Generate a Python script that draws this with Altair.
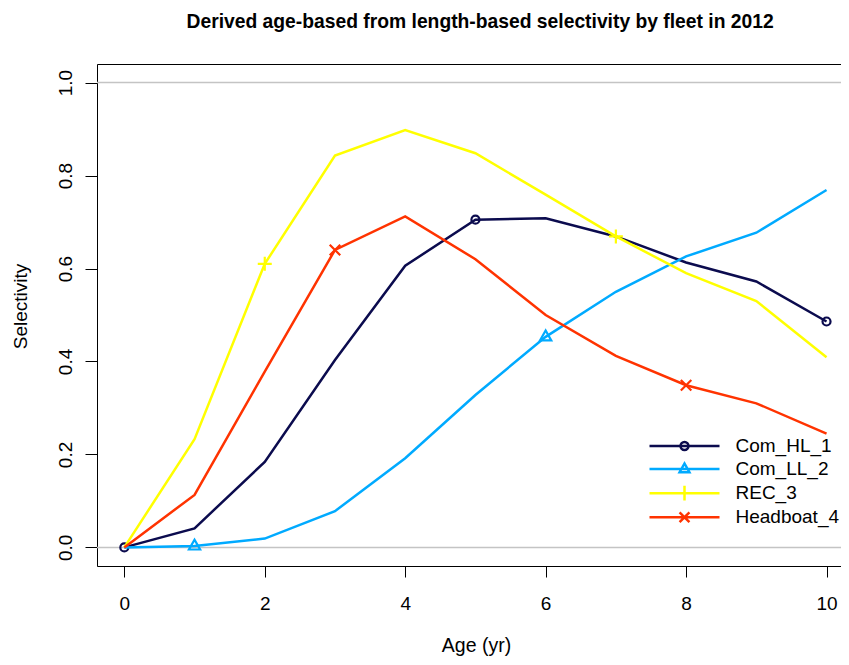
import altair as alt
import pandas as pd

# ---------------- data ----------------
ages = list(range(11))
fleets = ["Com_HL_1", "Com_LL_2", "REC_3", "Headboat_4"]
sel_hl = [0.0, 0.041, 0.184, 0.403, 0.606, 0.705, 0.708, 0.669, 0.613, 0.572, 0.486]
sel_ll = [0.0, 0.003, 0.019, 0.078, 0.192, 0.328, 0.453, 0.550, 0.626, 0.677, 0.769]
sel_rec = [0.0, 0.233, 0.610, 0.843, 0.898, 0.848, 0.759, 0.669, 0.590, 0.530, 0.409]
sel_hb = [0.0, 0.113, 0.378, 0.640, 0.712, 0.620, 0.500, 0.412, 0.349, 0.310, 0.245]
marker_ages_hl = [0, 5, 10]
marker_ages_ll = [1, 6]
marker_ages_rec = [2, 7]
marker_ages_hb = [3, 8]
ref_lines = [0.0, 1.0]
x_ticks = [0, 2, 4, 6, 8, 10]
y_ticks = [0.0, 0.2, 0.4, 0.6, 0.8, 1.0]

colors = ["#0B0B4E", "#00AAFF", "#FFFF00", "#FF3300"]

FONT = "Liberation Sans"

series = [sel_hl, sel_ll, sel_rec, sel_hb]
marker_ages = [marker_ages_hl, marker_ages_ll, marker_ages_rec, marker_ages_hb]

rows = []
for k, (name, vals) in enumerate(zip(fleets, series)):
    for a, v in zip(ages, vals):
        rows.append({"age": a, "sel": v, "fleet": name, "k": k})
df = pd.DataFrame(rows)

x_scale = alt.Scale(domain=[-0.389, 10.206], nice=False, zero=False)
y_scale = alt.Scale(domain=[-0.04, 1.04], nice=False, zero=False)
color_scale = alt.Scale(domain=fleets, range=colors)

# marker shapes (unit paths, scaled by sqrt(size)/2)
m_circle = "circle"
m_tri = "M-0.8,0.5L0.8,0.5L0,-0.9Z"
m_plus = "M-1,0H1M0,-1V1"
m_x = "M-0.75,-0.75L0.75,0.75M-0.75,0.75L0.75,-0.75"
marker_shapes = [m_circle, m_tri, m_plus, m_x]
marker_sizes = [64, 196, 196, 196]

# legend symbols = line segment + marker
leg_paths = [
    "M-5,0H5M0.57,0A0.57,0.57 0 1,1 -0.57,0A0.57,0.57 0 1,1 0.57,0",
    "M-5,0H5M-0.7,0.45L0.7,0.45L0,-0.8Z",
    "M-5,0H5M0,-1.05V1.05",
    "M-5,0H5M-0.7,-0.7L0.7,0.7M-0.7,0.7L0.7,-0.7",
]

x_axis_bottom = alt.Axis(
    values=x_ticks, format="d", grid=False, tickSize=11, tickWidth=1,
    tickColor="black", domainColor="black", domainWidth=1,
    labelFont=FONT, labelFontSize=19, labelColor="black", labelPadding=17,
    labelBaseline="top", labelAlign="center",
    title="Age (yr)", titleFont=FONT, titleFontSize=19.5,
    titleFontWeight="normal", titleColor="black",
    titleX=379, titleY=85, titleBaseline="alphabetic", titleAlign="center",
)
y_axis_left = alt.Axis(
    values=y_ticks, format=".1f", grid=False, tickSize=12, tickWidth=1,
    tickColor="black", domainColor="black", domainWidth=1,
    labelFont=FONT, labelFontSize=19, labelColor="black", labelPadding=14,
    labelAngle=270, labelAlign="center", labelBaseline="alphabetic",
    title="Selectivity", titleFont=FONT, titleFontSize=19,
    titleFontWeight="normal", titleColor="black", titleAngle=270,
    titleX=-70.5, titleY=242, titleBaseline="alphabetic", titleAlign="center",
)

# ---------------- layers ----------------
layers = []
layers.append(
    alt.Chart(pd.DataFrame({"y": ref_lines})).mark_rule(
        color="#C4C4C4", strokeWidth=1.5
    ).encode(y=alt.Y("y:Q", scale=y_scale, axis=y_axis_left))
)

for i, (name, ag, shp, sz, col) in enumerate(
    zip(fleets, marker_ages, marker_shapes, marker_sizes, colors)
):
    sub = df[df["fleet"] == name]
    msub = sub[sub["age"].isin(ag)]
    layers.append(
        alt.Chart(sub).mark_line(strokeWidth=2.5, color=col).encode(
            x=alt.X("age:Q", scale=x_scale,
                    axis=x_axis_bottom if i == 0 else None),
            y=alt.Y("sel:Q", scale=y_scale),
            order="age:Q",
        )
    )
    layers.append(
        alt.Chart(msub).mark_point(
            shape=shp, size=sz, filled=False, strokeWidth=2.2, color=col, opacity=1
        ).encode(
            x=alt.X("age:Q", scale=x_scale, axis=None),
            y=alt.Y("sel:Q", scale=y_scale),
        )
    )


def make_legend():
    return alt.Legend(
        title=None, orient="none", legendX=578, legendY=372.5,
        symbolSize=196, symbolStrokeWidth=2.5, symbolOpacity=1,
        symbolFillColor="transparent",
        labelFont=FONT, labelFontSize=19, labelColor="black", labelOffset=41.5,
        rowPadding=1.1, padding=0,
    )


layers.append(
    alt.Chart(df).mark_point(opacity=0, filled=False).encode(
        x=alt.X(
            "age:Q", scale=x_scale,
            axis=alt.Axis(orient="top", labels=False, ticks=False, grid=False,
                          domain=True, domainColor="black", domainWidth=1,
                          title=None),
        ),
        y=alt.Y("sel:Q", scale=y_scale),
        color=alt.Color("fleet:N", scale=color_scale, legend=make_legend()),
        shape=alt.Shape("fleet:N", scale=alt.Scale(domain=fleets, range=leg_paths),
                        legend=make_legend()),
    )
)

chart = alt.layer(*layers).resolve_axis(
    x="independent"
).properties(
    width=744,
    height=502,
    title=alt.TitleParams(
        "Derived age-based from length-based selectivity by fleet in 2012",
        font=FONT, fontSize=19.3, fontWeight="bold", color="black",
        anchor="start", dx=175, offset=32,
    ),
    autosize=alt.AutoSizeParams(type="none"),
    padding={"left": 89, "top": 56, "right": 0, "bottom": 90},
).configure_view(stroke=None).configure(background="white")

chart.save("out.html", embed_options={"renderer": "svg", "actions": False})
